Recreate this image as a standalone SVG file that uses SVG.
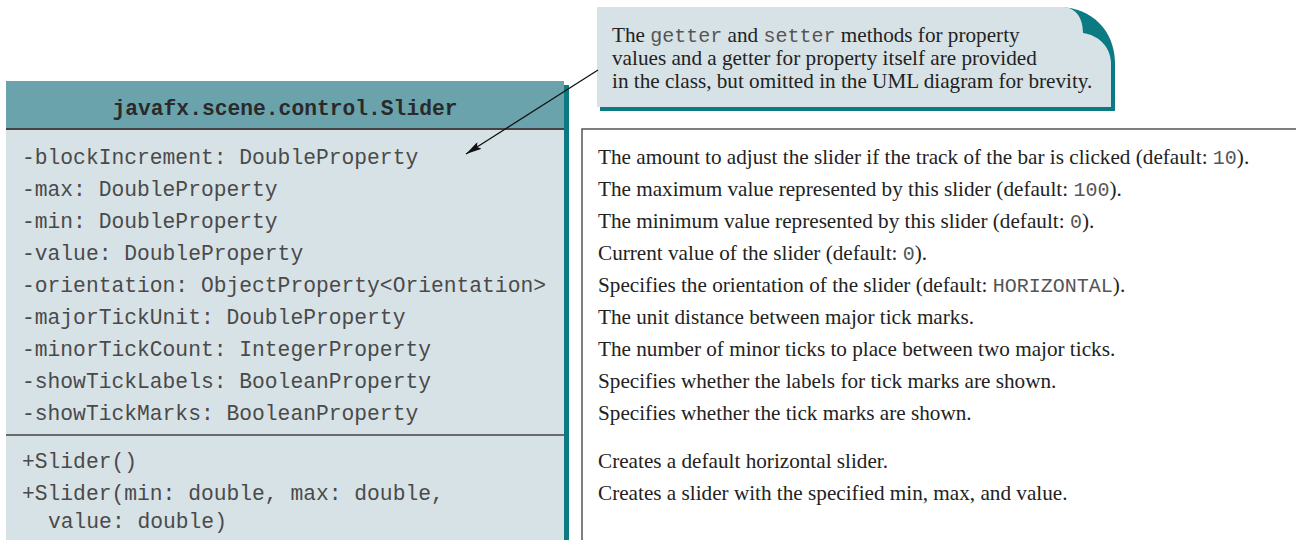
<svg xmlns="http://www.w3.org/2000/svg" width="1296" height="540" viewBox="0 0 1296 540">
<style>
.mono{font-family:"Liberation Mono","Courier New",monospace;font-size:21.3px;fill:#4a4a4a}
.hdr{font-family:"Liberation Mono","Courier New",monospace;font-size:21.3px;font-weight:bold;fill:#2a2a2a}
.serif{font-family:"Liberation Serif","Times New Roman",serif;font-size:21.2px;fill:#222}
.cm{font-family:"Liberation Mono","Courier New",monospace;font-size:20px;fill:#555}
</style>
<defs>
<marker id="arr" viewBox="0 0 16 8" refX="16" refY="4" markerWidth="16" markerHeight="8" markerUnits="userSpaceOnUse" orient="auto">
<path d="M0,0 L16,4 L0,8 L3,4 Z" fill="#111"/>
</marker>
</defs>
<rect width="1296" height="540" fill="#fff"/>
<g id="class-slider">
<rect x="9" y="85" width="560" height="460" fill="#0b7a82"/>
<rect x="6" y="81" width="558" height="48" fill="#6ba3ad"/>
<rect x="6" y="129" width="558" height="416" fill="#d7e2e7"/>
<line x1="6" y1="129" x2="564" y2="129" stroke="#444" stroke-width="2"/>
<line x1="6" y1="435" x2="564" y2="435" stroke="#444" stroke-width="1.5"/>
<text class="hdr" x="285" y="115" text-anchor="middle">javafx.scene.control.Slider</text>
<text class="mono" x="22" y="164">-blockIncrement: DoubleProperty</text>
<text class="mono" x="22" y="196">-max: DoubleProperty</text>
<text class="mono" x="22" y="228">-min: DoubleProperty</text>
<text class="mono" x="22" y="260">-value: DoubleProperty</text>
<text class="mono" x="22" y="292">-orientation: ObjectProperty&lt;Orientation&gt;</text>
<text class="mono" x="22" y="324">-majorTickUnit: DoubleProperty</text>
<text class="mono" x="22" y="356">-minorTickCount: IntegerProperty</text>
<text class="mono" x="22" y="388">-showTickLabels: BooleanProperty</text>
<text class="mono" x="22" y="420">-showTickMarks: BooleanProperty</text>
<text class="mono" x="22" y="468">+Slider()</text>
<text class="mono" x="22" y="500">+Slider(min: double, max: double,</text>
<text class="mono" x="48" y="528">value: double)</text>
</g>
<g id="descriptions">
<path d="M582,545 V129 H1300" fill="none" stroke="#555" stroke-width="1.5"/>
<text class="serif" x="598" y="164">The amount to adjust the slider if the track of the bar is clicked (default: <tspan class="cm">10</tspan>).</text>
<text class="serif" x="598" y="196">The maximum value represented by this slider (default: <tspan class="cm">100</tspan>).</text>
<text class="serif" x="598" y="228">The minimum value represented by this slider (default: <tspan class="cm">0</tspan>).</text>
<text class="serif" x="598" y="260">Current value of the slider (default: <tspan class="cm">0</tspan>).</text>
<text class="serif" x="598" y="292">Specifies the orientation of the slider (default: <tspan class="cm">HORIZONTAL</tspan>).</text>
<text class="serif" x="598" y="324">The unit distance between major tick marks.</text>
<text class="serif" x="598" y="356">The number of minor ticks to place between two major ticks.</text>
<text class="serif" x="598" y="388">Specifies whether the labels for tick marks are shown.</text>
<text class="serif" x="598" y="420">Specifies whether the tick marks are shown.</text>
<text class="serif" x="598" y="468">Creates a default horizontal slider.</text>
<text class="serif" x="598" y="500">Creates a slider with the specified min, max, and value.</text>
</g>
<g id="note">
<path d="M600,111 H1115 V62 C1114,30 1092,8 1060,7 H600 Z" fill="#0b7a82"/>
<path d="M597,7 H1064 C1076,8 1083,18 1083,33 C1098,35 1110,46 1111,62 V107 H597 Z" fill="#d7e2e7"/>
<text class="serif" x="612" y="42">The <tspan class="cm">getter</tspan> and <tspan class="cm">setter</tspan> methods for property</text>
<text class="serif" x="612" y="65">values and a getter for property itself are provided</text>
<text class="serif" x="612" y="88">in the class, but omitted in the UML diagram for brevity.</text>
</g>
<g id="connectors">
<line x1="598" y1="70" x2="466" y2="154" stroke="#111" stroke-width="1.3" marker-end="url(#arr)"/>
</g>
</svg>
